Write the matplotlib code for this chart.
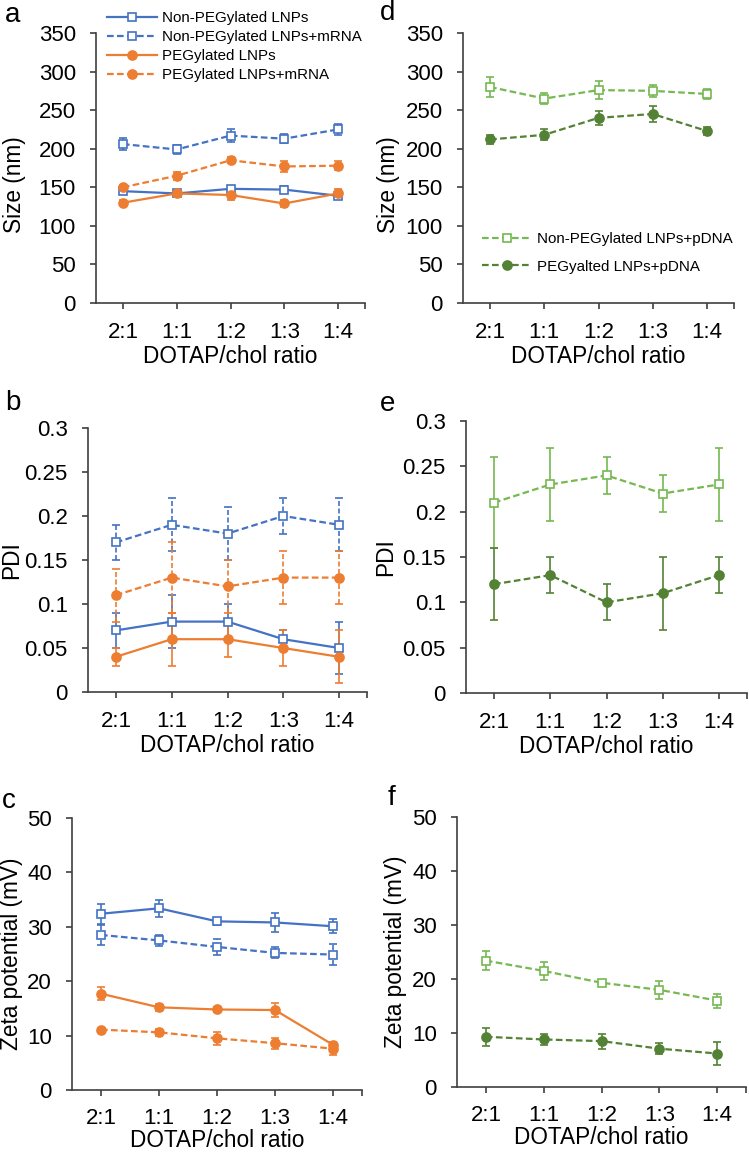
import matplotlib.pyplot as plt
from matplotlib.ticker import FuncFormatter

plt.rcParams['font.family'] = ['Liberation Sans', 'DejaVu Sans']

# Data
ratios = ['2:1', '1:1', '1:2', '1:3', '1:4']

# a: size, mRNA set
size_np = [145, 142, 148, 147, 139]
size_np_err = [4, 3, 4, 5, 4]
size_np_mrna = [206, 199, 217, 213, 225]
size_np_mrna_err = [8, 6, 8, 6, 7]
size_peg = [130, 142, 140, 129, 142]
size_peg_err = [3, 3, 6, 5, 6]
size_peg_mrna = [150, 165, 185, 177, 178]
size_peg_mrna_err = [3, 5, 4, 7, 6]

# b: PDI, mRNA set
pdi_np = [0.07, 0.08, 0.08, 0.06, 0.05]
pdi_np_err = [0.02, 0.03, 0.02, 0.01, 0.03]
pdi_np_mrna = [0.17, 0.19, 0.18, 0.20, 0.19]
pdi_np_mrna_err = [0.02, 0.03, 0.03, 0.02, 0.03]
pdi_peg = [0.04, 0.06, 0.06, 0.05, 0.04]
pdi_peg_err = [0.01, 0.03, 0.02, 0.02, 0.03]
pdi_peg_mrna = [0.11, 0.13, 0.12, 0.13, 0.13]
pdi_peg_mrna_err = [0.03, 0.04, 0.03, 0.03, 0.03]

# c: zeta, mRNA set
zeta_np = [32.4, 33.4, 31.0, 30.8, 30.1]
zeta_np_err = [1.8, 1.6, 0.6, 1.7, 1.3]
zeta_np_mrna = [28.5, 27.5, 26.3, 25.2, 24.9]
zeta_np_mrna_err = [1.8, 1.0, 1.4, 1.0, 2.0]
zeta_peg = [17.7, 15.2, 14.8, 14.7, 8.3]
zeta_peg_err = [1.2, 0.7, 0.4, 1.3, 0.6]
zeta_peg_mrna = [11.1, 10.6, 9.5, 8.6, 7.6]
zeta_peg_mrna_err = [0.3, 0.7, 1.2, 1.0, 1.2]

# d, e, f: pDNA set
size_np_pdna = [280, 265, 276, 275, 271]
size_np_pdna_err = [13, 7, 12, 8, 7]
size_peg_pdna = [212, 218, 240, 245, 223]
size_peg_pdna_err = [6, 7, 9, 10, 5]
pdi_np_pdna = [0.21, 0.23, 0.24, 0.22, 0.23]
pdi_np_pdna_err = [0.05, 0.04, 0.02, 0.02, 0.04]
pdi_peg_pdna = [0.12, 0.13, 0.10, 0.11, 0.13]
pdi_peg_pdna_err = [0.04, 0.02, 0.02, 0.04, 0.02]
zeta_np_pdna = [23.4, 21.5, 19.3, 18.0, 16.0]
zeta_np_pdna_err = [1.8, 1.6, 0.6, 1.7, 1.3]
zeta_peg_pdna = [9.3, 8.8, 8.5, 7.1, 6.2]
zeta_peg_pdna_err = [1.7, 1.1, 1.4, 1.0, 2.1]

BLUE = '#4472C4'
ORANGE = '#ED7D31'
LGREEN = '#76B852'
DGREEN = '#548235'
AXC = '#404040'

W, H = 749, 1154
fig = plt.figure(figsize=(W / 100, H / 100), dpi=100)


def make_ax(left, top, right, bottom):
    return fig.add_axes([left / W, 1 - bottom / H, (right - left) / W, (bottom - top) / H])


def series(ax, y, err, color, marker, dashed, dashed_err=True):
    x = range(len(y))
    eb = ax.errorbar(x, y, yerr=err, color=color, lw=1.6,
                     ls='--' if dashed else '-',
                     marker=marker, ms=5.5 if marker == 's' else 6.5,
                     mfc='white' if marker == 's' else color, mec=color, mew=1.2,
                     elinewidth=1.2, capsize=3, capthick=1.2)
    if dashed:
        eb[0].set_dashes((3, 1.5))
        if dashed_err:
            eb[2][0].set_linestyle((0, (3, 1.5)))
    return eb[0]


def style(ax, ymax, step, ylabel, lx, ly=0.5, fmt=None, xpad=10, lpad=1):
    ax.set_xlim(-0.5, 4.5)
    ax.set_ylim(0, ymax)
    ax.set_xticks([0, 1, 2, 3, 4, 4.5])
    ax.set_xticklabels(ratios + [''])
    n = int(round(ymax / step))
    ax.set_yticks([i * step for i in range(n + 1)])
    if fmt:
        ax.yaxis.set_major_formatter(FuncFormatter(lambda v, p: '%g' % round(v, 3)))
    for s in ['top', 'right']:
        ax.spines[s].set_visible(False)
    for s in ['left', 'bottom']:
        ax.spines[s].set_color(AXC)
        ax.spines[s].set_linewidth(1.2)
    ax.tick_params(direction='out', length=4, width=1.2, color=AXC, labelsize=16)
    ax.tick_params(axis='x', pad=xpad)
    ax.tick_params(axis='y', pad=10.5)
    ax.set_xlabel('DOTAP/chol ratio', fontsize=16.3, labelpad=lpad)
    ax.set_ylabel(ylabel, fontsize=16.3)
    ax.yaxis.set_label_coords(lx, ly)


# panel a
ax = make_ax(96, 33, 365, 303)
h1 = series(ax, size_np, size_np_err, BLUE, 's', False)
h2 = series(ax, size_np_mrna, size_np_mrna_err, BLUE, 's', True)
h3 = series(ax, size_peg, size_peg_err, ORANGE, 'o', False)
h4 = series(ax, size_peg_mrna, size_peg_mrna_err, ORANGE, 'o', True)
style(ax, 350, 50, 'Size (nm)', -0.26, 0.44)
fig.legend([h1, h2, h3, h4],
           ['Non-PEGylated LNPs', 'Non-PEGylated LNPs+mRNA', 'PEGylated LNPs', 'PEGylated LNPs+mRNA'],
           loc='upper left', bbox_to_anchor=(107 / W, 1 - 11 / H), frameon=False,
           fontsize=10.9, handlelength=3.3, handletextpad=0.35, labelspacing=0.33,
           borderpad=0, borderaxespad=0)

# panel b
ax = make_ax(88, 428, 367, 692)
series(ax, pdi_np, pdi_np_err, BLUE, 's', False)
series(ax, pdi_np_mrna, pdi_np_mrna_err, BLUE, 's', True)
series(ax, pdi_peg, pdi_peg_err, ORANGE, 'o', False)
series(ax, pdi_peg_mrna, pdi_peg_mrna_err, ORANGE, 'o', True)
style(ax, 0.3, 0.05, 'PDI', -0.232, fmt=True)

# panel c
ax = make_ax(72, 818, 362, 1090)
series(ax, zeta_np, zeta_np_err, BLUE, 's', False)
series(ax, zeta_np_mrna, zeta_np_mrna_err, BLUE, 's', True)
series(ax, zeta_peg, zeta_peg_err, ORANGE, 'o', False)
series(ax, zeta_peg_mrna, zeta_peg_mrna_err, ORANGE, 'o', True)
style(ax, 50, 10, 'Zeta potential (mV)', -0.17, xpad=9, lpad=0)

# panel d
ax = make_ax(463, 33, 734, 303)
g1 = series(ax, size_np_pdna, size_np_pdna_err, LGREEN, 's', True, False)
g2 = series(ax, size_peg_pdna, size_peg_pdna_err, DGREEN, 'o', True, False)
style(ax, 350, 50, 'Size (nm)', -0.232, 0.44)
fig.legend([g1, g2], ['Non-PEGylated LNPs+pDNA', 'PEGyalted LNPs+pDNA'],
           loc='upper left', bbox_to_anchor=(482 / W, 1 - 232 / H), frameon=False,
           fontsize=10.9, handlelength=3.3, handletextpad=0.35, labelspacing=0.9,
           borderpad=0, borderaxespad=0)

# panel e
ax = make_ax(466, 421, 747, 693)
series(ax, pdi_np_pdna, pdi_np_pdna_err, LGREEN, 's', True, False)
series(ax, pdi_peg_pdna, pdi_peg_pdna_err, DGREEN, 'o', True, False)
style(ax, 0.3, 0.05, 'PDI', -0.246, fmt=True)

# panel f
ax = make_ax(457, 817, 746, 1087)
series(ax, zeta_np_pdna, zeta_np_pdna_err, LGREEN, 's', True, False)
series(ax, zeta_peg_pdna, zeta_peg_pdna_err, DGREEN, 'o', True, False)
style(ax, 50, 10, 'Zeta potential (mV)', -0.173, xpad=9, lpad=0)

# panel letters
for letter, x, y in [('a', 5, 15), ('d', 380, 13), ('b', 5, 403), ('e', 380, 404),
                     ('c', 2, 801), ('f', 388, 798)]:
    fig.text(x / W, 1 - y / H, letter, fontsize=20, va='center', ha='left')

fig.savefig('out.png', dpi=100)
